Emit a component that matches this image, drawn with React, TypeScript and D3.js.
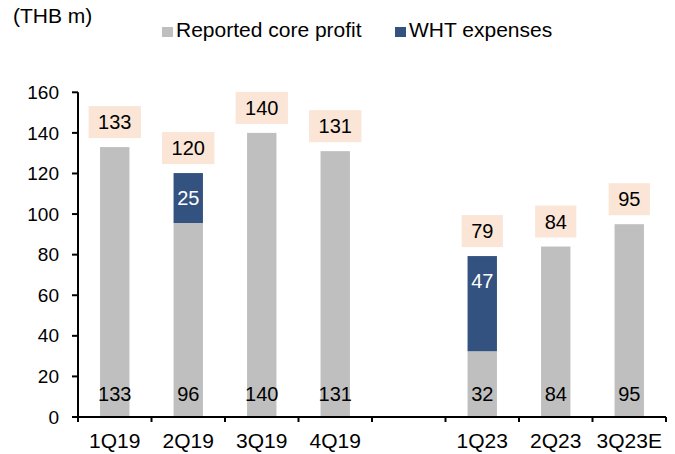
import * as d3 from 'd3';

const categories = ['1Q19', '2Q19', '3Q19', '4Q19', '', '1Q23', '2Q23', '3Q23E'];
const coreProfit: (number | null)[] = [133, 95.6, 140, 131, null, 32.4, 84, 95];
const whtExpenses: (number | null)[] = [0, 24.6, 0, 0, null, 46.9, 0, 0];
const yTicks = [0, 20, 40, 60, 80, 100, 120, 140, 160];

const GREY = '#BFBFBF';
const BLUE = '#33527F';
const PEACH = '#FBE5D6';
const FONT = 'Liberation Sans, Arial, sans-serif';

export default function App() {
  const width = 675;
  const height = 454;

  const x = d3.scaleBand<string>()
    .domain(categories.map((c, i) => c || `gap${i}`))
    .range([78, 666])
    .paddingInner(0.6)
    .paddingOuter(0.3);
  const y = d3.scaleLinear().domain([0, 160]).range([417, 92.3]);
  const fmt = d3.format('.0f');
  const key = (i: number) => categories[i] || `gap${i}`;

  return (
    <svg width={width} height={height} style={{ position: 'absolute', left: 0, top: 0 }}
      fontFamily={FONT}>
      {/* unit + legend */}
      <text x={13} y={23} fontSize={21} fill="#000">(THB m)</text>
      <rect x={162} y={27} width={11} height={10} fill={GREY} />
      <text x={176} y={37} fontSize={21} fill="#000">Reported core profit</text>
      <rect x={395} y={27} width={11} height={10} fill={BLUE} />
      <text x={409} y={37} fontSize={21} fill="#000">WHT expenses</text>

      {/* bars */}
      {categories.map((c, i) => {
        const core = coreProfit[i];
        if (core == null) return null;
        const wht = whtExpenses[i] ?? 0;
        const x0 = x(key(i))!;
        const bw = x.bandwidth();
        const cx = x0 + bw / 2;
        const total = core + wht;
        const totalLabel = fmt(total);
        const boxW = totalLabel.length * 11.1 + 19;
        const boxBottom = y(total) - 9;
        return (
          <g key={c}>
            <rect x={x0} y={y(core)} width={bw} height={y(0) - y(core)} fill={GREY} />
            {wht > 0 && (
              <rect x={x0} y={y(total)} width={bw} height={y(core) - y(total)} fill={BLUE} />
            )}
            <text x={cx} y={401} fontSize={20} textAnchor="middle" fill="#000">{fmt(core)}</text>
            {wht > 0 && (
              <text x={cx} y={y(total) + 32} fontSize={20} textAnchor="middle" fill="#fff">{fmt(wht)}</text>
            )}
            <rect x={cx - boxW / 2} y={boxBottom - 32} width={boxW} height={32} fill={PEACH} />
            <text x={cx} y={boxBottom - 9} fontSize={20} textAnchor="middle" fill="#000">{totalLabel}</text>
          </g>
        );
      })}

      {/* y axis */}
      <line x1={78} x2={78} y1={y(160)} y2={422} stroke="#000" strokeWidth={2} />
      {yTicks.map(t => (
        <g key={t}>
          <line x1={72} x2={78} y1={y(t)} y2={y(t)} stroke="#000" strokeWidth={2} />
          <text x={59} y={y(t)} dy="0.35em" fontSize={19} textAnchor="end" fill="#000">{t}</text>
        </g>
      ))}

      {/* x axis */}
      <line x1={77} x2={666} y1={y(0)} y2={y(0)} stroke="#000" strokeWidth={2} />
      {d3.range(categories.length + 1).map(i => {
        const bx = x.range()[0] + i * x.step();
        return <line key={i} x1={bx} x2={bx} y1={y(0)} y2={422} stroke="#000" strokeWidth={2} />;
      })}
      {categories.map((c, i) => c && (
        <text key={c} x={x(key(i))! + x.bandwidth() / 2} y={448} fontSize={21} textAnchor="middle" fill="#000">{c}</text>
      ))}
    </svg>
  );
}
